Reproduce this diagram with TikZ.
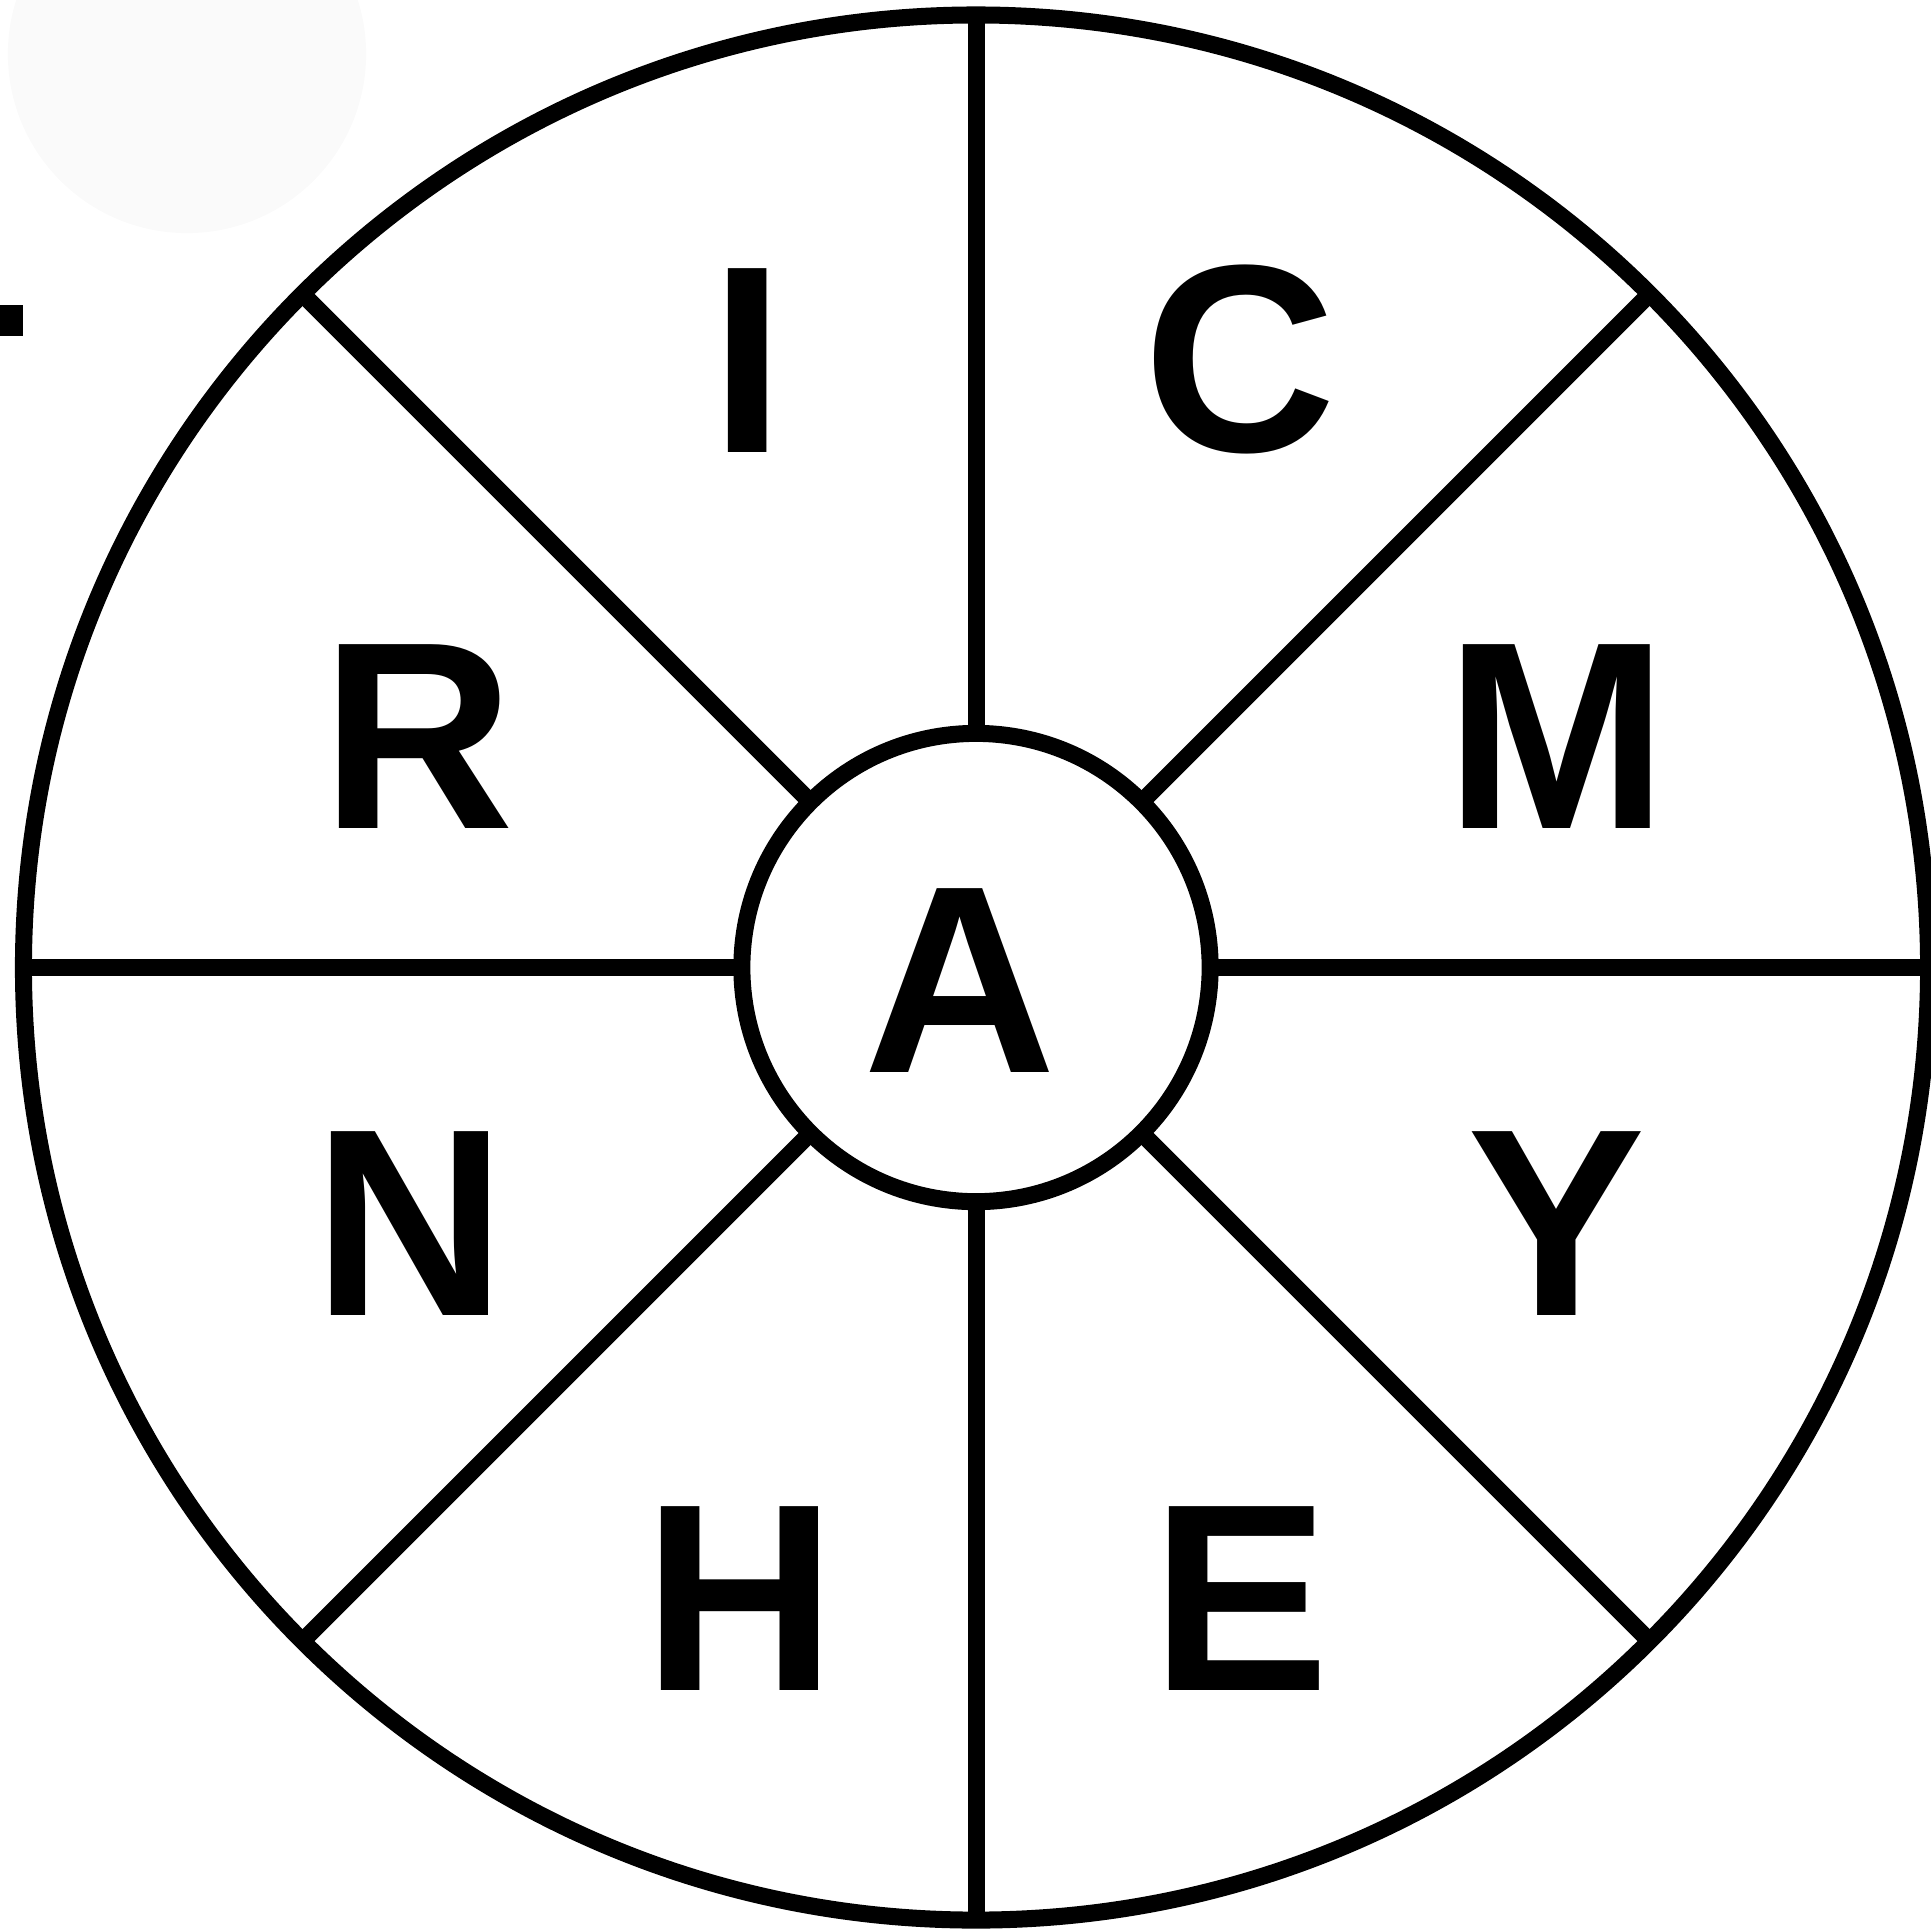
\documentclass[tikz,border=0pt]{standalone}
\usepackage{fontspec}
\setmainfont{Liberation Sans}
\definecolor{faint}{HTML}{FAFAFA}
\begin{document}
\begin{tikzpicture}[x=0.01cm,y=-0.01cm,
  ring/.style={draw=black, line width=0.17cm, circle, inner sep=0pt, outer sep=0pt, fill=white},
  letter/.style={font=\fontsize{76}{76}\selectfont\bfseries, anchor=base, inner sep=0pt},
  spoke/.style={draw=black, line width=0.17cm}]
\useasboundingbox (0,0) rectangle (1931,1929);
\begin{scope}
  \clip (0,0) rectangle (1931,1929);
  \fill[faint] (187,54) circle [radius=1.79cm];
\end{scope}
\fill[black] (0,305) rectangle (23,336);
\node[ring, minimum size=19.04cm] (outer) at (976,967.5) {};
\node[ring, minimum size=4.68cm] (inner) at (976,967.5) {};
\foreach \a in {0,45,...,315} \draw[spoke] (inner.\a) -- (outer.\a);
\node[letter] (lI) at (747.5,452) {I};
\node[letter] (lC) at (1240,451) {C};
\node[letter] (lR) at (418,828) {R};
\node[letter] (lM) at (1557,828) {M};
\node[letter] (lA) at (960,1072) {A};
\node[letter] (lN) at (410,1315) {N};
\node[letter] (lY) at (1557,1315) {Y};
\node[letter] (lH) at (740,1690) {H};
\node[letter] (lE) at (1241,1690) {E};
\end{tikzpicture}
\end{document}
